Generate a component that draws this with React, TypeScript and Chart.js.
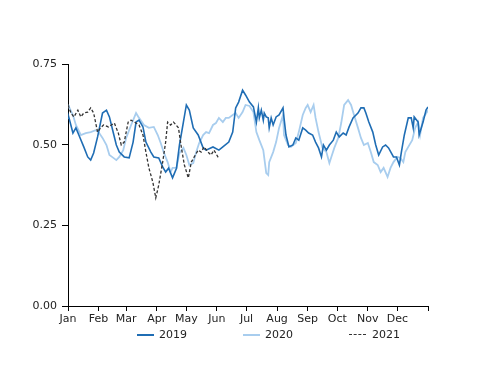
import React, { useEffect, useRef } from "react";
import { Chart, registerables } from "chart.js";

Chart.register(...registerables);

const monthTicks = [0, 31, 59, 90, 120, 151, 181, 212, 243, 273, 304, 334, 365];
const monthLabels = ["Jan", "Feb", "Mar", "Apr", "May", "Jun", "Jul", "Aug", "Sep", "Oct", "Nov", "Dec", ""];
const yTicks = [0, 0.25, 0.5, 0.75];

const days2019 = [0,1,5,8,11,16,20,23,26,30,35,39,42,46,49,52,57,62,66,69,72,76,79,84,87,92,96,99,102,106,110,113,117,120,123,127,132,137,140,147,153,157,163,167,170,173,177,180,184,188,191,193,194,196,198,199,201,203,204,206,208,211,214,218,219,221,224,228,231,234,238,241,244,248,251,254,257,259,262,265,269,272,275,279,282,285,289,294,297,300,302,305,309,312,315,319,322,325,330,333,336,338,341,345,348,350,351,355,356,360,363,365];
const vals2019 = [0.582,0.583,0.536,0.552,0.53,0.493,0.462,0.452,0.474,0.524,0.598,0.607,0.586,0.536,0.499,0.477,0.462,0.459,0.508,0.57,0.576,0.555,0.508,0.477,0.462,0.459,0.431,0.415,0.427,0.397,0.427,0.499,0.57,0.623,0.607,0.552,0.53,0.49,0.483,0.493,0.483,0.493,0.508,0.539,0.614,0.632,0.669,0.654,0.632,0.617,0.57,0.614,0.583,0.607,0.576,0.598,0.586,0.583,0.552,0.583,0.561,0.586,0.592,0.614,0.583,0.53,0.493,0.499,0.521,0.514,0.552,0.545,0.536,0.53,0.508,0.49,0.462,0.499,0.483,0.499,0.514,0.539,0.524,0.536,0.53,0.555,0.583,0.598,0.614,0.614,0.598,0.57,0.539,0.499,0.468,0.493,0.499,0.49,0.462,0.462,0.437,0.477,0.53,0.583,0.583,0.552,0.586,0.57,0.53,0.57,0.607,0.617];

const days2020 = [0,1,5,8,13,18,23,28,31,35,39,42,46,49,52,56,59,64,69,72,77,82,87,91,94,97,101,104,106,110,113,117,120,123,127,130,133,137,140,143,147,150,153,157,160,163,167,170,173,177,180,184,188,191,194,198,201,203,204,208,211,214,218,219,223,226,231,234,238,241,243,246,249,251,254,258,262,265,267,270,274,277,280,284,287,290,294,297,300,304,307,310,314,317,320,324,327,330,334,337,340,342,345,349,352,355,357,360,364,365];
const vals2020 = [0.623,0.617,0.592,0.561,0.53,0.536,0.539,0.545,0.539,0.521,0.499,0.468,0.459,0.452,0.462,0.483,0.521,0.561,0.598,0.583,0.561,0.552,0.555,0.53,0.505,0.477,0.446,0.415,0.428,0.428,0.474,0.49,0.468,0.437,0.443,0.477,0.505,0.53,0.539,0.536,0.561,0.567,0.583,0.57,0.583,0.583,0.592,0.598,0.583,0.601,0.623,0.62,0.601,0.539,0.514,0.483,0.412,0.406,0.446,0.477,0.508,0.552,0.592,0.53,0.499,0.493,0.505,0.539,0.592,0.614,0.623,0.601,0.623,0.583,0.539,0.49,0.477,0.443,0.462,0.49,0.521,0.567,0.623,0.638,0.623,0.592,0.552,0.521,0.499,0.505,0.477,0.446,0.437,0.415,0.428,0.4,0.428,0.446,0.462,0.459,0.446,0.477,0.493,0.514,0.552,0.57,0.53,0.583,0.601,0.607];

const days2021 = [0,3,6,10,13,16,20,23,26,30,33,36,41,44,47,51,54,57,61,64,69,72,76,79,82,86,89,92,96,99,101,104,107,112,115,118,122,125,128,132,135,138,142,145,148,152,153];
const vals2021 = [0.623,0.598,0.586,0.607,0.586,0.598,0.601,0.614,0.598,0.539,0.552,0.561,0.555,0.561,0.567,0.536,0.499,0.508,0.57,0.576,0.567,0.561,0.53,0.477,0.428,0.384,0.335,0.375,0.446,0.508,0.57,0.561,0.57,0.552,0.49,0.437,0.397,0.446,0.462,0.483,0.477,0.493,0.477,0.468,0.483,0.462,0.459];

const seriesNames = ["2019", "2020", "2021"];
const colors = ["#1f6db4", "#a8cdee", "#333333"];

const toPoints = (d: number[], v: number[]) => d.map((x, i) => ({ x, y: v[i] }));

const FONT = "'DejaVu Sans', Verdana, sans-serif";

export default function App() {
  const ref = useRef<HTMLCanvasElement | null>(null);

  useEffect(() => {
    document.body.style.margin = "0";
    const ctx = ref.current!.getContext("2d")!;
    const chart = new Chart(ctx, {
      type: "line",
      data: {
        datasets: [
          { label: seriesNames[0], data: toPoints(days2019, vals2019), borderColor: colors[0], borderWidth: 1.6, pointRadius: 0, order: 1 },
          { label: seriesNames[1], data: toPoints(days2020, vals2020), borderColor: colors[1], borderWidth: 1.8, pointRadius: 0, order: 2 },
          { label: seriesNames[2], data: toPoints(days2021, vals2021), borderColor: colors[2], borderWidth: 1.3, borderDash: [3, 2], pointRadius: 0, order: 0 },
        ],
      },
      options: {
        animation: false,
        responsive: false,
        devicePixelRatio: 1,
        layout: { padding: { left: 0, right: 72, top: 64, bottom: 50 } },
        plugins: { legend: { display: false }, tooltip: { enabled: false } },
        scales: {
          x: {
            type: "linear",
            min: 0,
            max: 365,
            afterBuildTicks: (scale: any) => {
              scale.ticks = monthTicks.map((v) => ({ value: v }));
            },
            afterFit: (scale: any) => {
              scale.height = 30;
            },
            ticks: {
              autoSkip: false,
              maxRotation: 0,
              padding: 2,
              color: "#222",
              font: { family: FONT, size: 11 },
              callback: (v: any) => monthLabels[monthTicks.indexOf(Number(v))] ?? "",
            },
            grid: { drawOnChartArea: false, drawTicks: true, tickLength: 5, color: "#000" },
            border: { color: "#000", width: 1 },
          },
          y: {
            min: 0,
            max: 0.75,
            afterBuildTicks: (scale: any) => {
              scale.ticks = yTicks.map((v) => ({ value: v }));
            },
            afterFit: (scale: any) => {
              scale.width = 68;
            },
            ticks: {
              padding: 5,
              color: "#222",
              font: { family: FONT, size: 11 },
              callback: (v: any) => Number(v).toFixed(2),
            },
            grid: { drawOnChartArea: false, drawTicks: true, tickLength: 6, color: "#000" },
            border: { color: "#000", width: 1 },
          },
        },
      },
    });
    return () => chart.destroy();
  }, []);

  const legendItems = [
    { lineLeft: 137, textLeft: 159, dash: false },
    { lineLeft: 243, textLeft: 265, dash: false },
    { lineLeft: 349, textLeft: 372, dash: true },
  ];

  return (
    <div style={{ position: "relative", width: 500, height: 386, background: "#fff" }}>
      <canvas ref={ref} width={500} height={386} style={{ display: "block", width: 500, height: 386 }} />
      {legendItems.map((it, i) => (
        <React.Fragment key={seriesNames[i]}>
          <div
            style={{
              position: "absolute",
              left: it.lineLeft,
              top: 334,
              width: 17,
              height: 0,
              borderTop: `${it.dash ? 1.5 : 2}px ${it.dash ? "dashed" : "solid"} ${colors[i]}`,
            }}
          />
          <div
            style={{
              position: "absolute",
              left: it.textLeft,
              top: 327,
              fontFamily: FONT,
              fontSize: 11,
              lineHeight: "15px",
              color: "#222",
            }}
          >
            {seriesNames[i]}
          </div>
        </React.Fragment>
      ))}
    </div>
  );
}
